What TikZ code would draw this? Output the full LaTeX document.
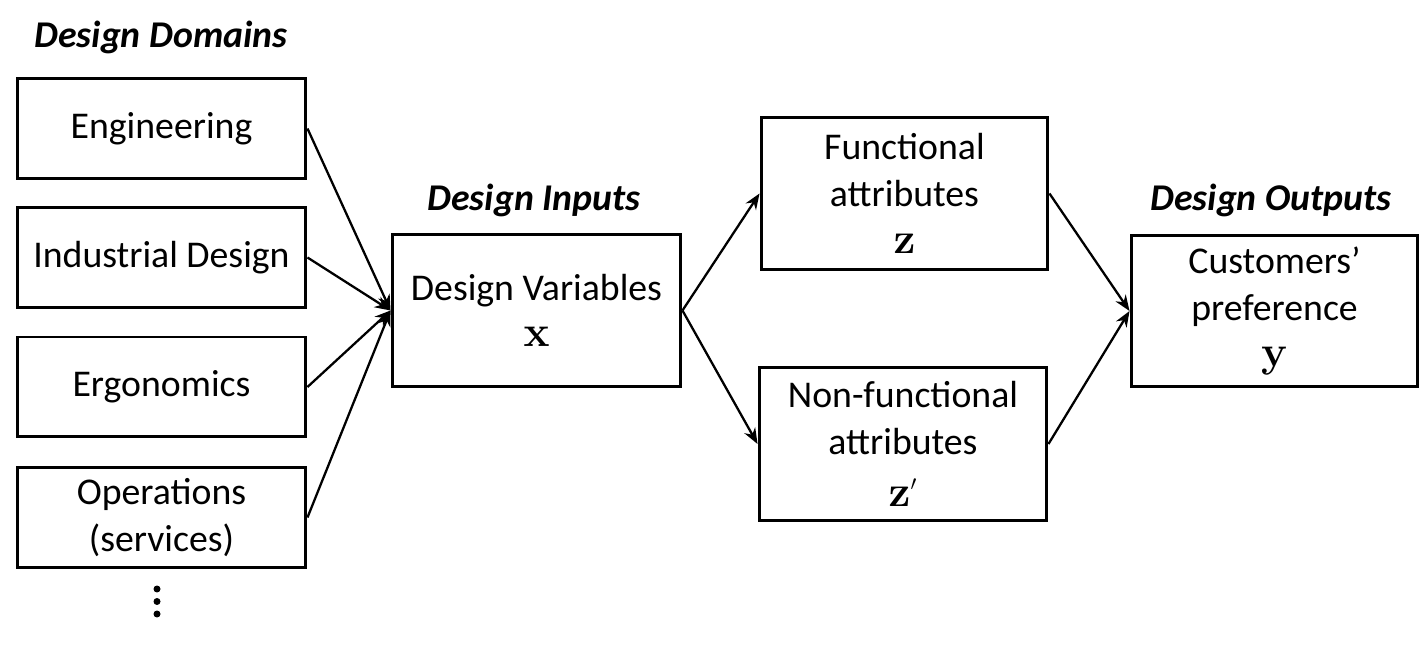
\documentclass[tikz,border=0pt]{standalone}
\usepackage[no-math]{fontspec}
\setmainfont{Carlito}
\usetikzlibrary{arrows.meta}
\tikzset{
  box/.style={draw,line width=1.7pt,align=center,inner sep=0pt,font=\fontsize{21.5}{26.6}\selectfont},
  title/.style={font=\fontsize{21.5}{25}\selectfont\bfseries\itshape},
  arr/.style={line width=1.3pt,-{Stealth[length=9pt,width=7pt]}}
}
\newcommand\vecsym[1]{{\fontsize{24}{26.6}\selectfont$\mathbf{#1}$}}
\begin{document}
\begin{tikzpicture}[x=0.02cm,y=-0.02cm]
\useasboundingbox (0,0) rectangle (1426,671);
\node[title] (domt) at (161,37) {Design Domains};
\foreach \y/\n/\l in {128.5/eng/Engineering, 257.5/ind/Industrial Design, 387/erg/Ergonomics, 517.5/ops/{Operations\\(services)}}
  \node[box,minimum width=5.78cm,minimum height=2cm] (\n) at (161.5,\y) {\l};
\foreach \y in {589,601.5,614}
  \fill (157,\y) circle (0.07cm);
\node[title] (int) at (534,200) {Design Inputs};
\node[box,minimum width=5.78cm,minimum height=3.06cm] (dv) at (536.5,310.5) {Design Variables\\\vecsym{x}};
\node[box,minimum width=5.74cm,minimum height=3.06cm] (fa) at (904.5,193.5) {Functional\\attributes\\\vecsym{z}};
\node[box,minimum width=5.76cm,minimum height=3.08cm] (nfa) at (903,444) {Non-functional\\attributes\\[3pt]\vecsym{z^{\scriptscriptstyle\prime}}};
\node[title] (outt) at (1271,200) {Design Outputs};
\node[box,minimum width=5.74cm,minimum height=3.04cm] (cp) at (1274.5,311) {Customers’\\preference\\\vecsym{y}};
\foreach \n in {eng,ind,erg,ops}
  \draw[arr] (\n.east) -- (dv.west);
\draw[arr] (dv.east) -- (fa.west);
\draw[arr] (dv.east) -- (nfa.west);
\draw[arr] (fa.east) -- (cp.west);
\draw[arr] (nfa.east) -- (cp.west);
\end{tikzpicture}
\end{document}
